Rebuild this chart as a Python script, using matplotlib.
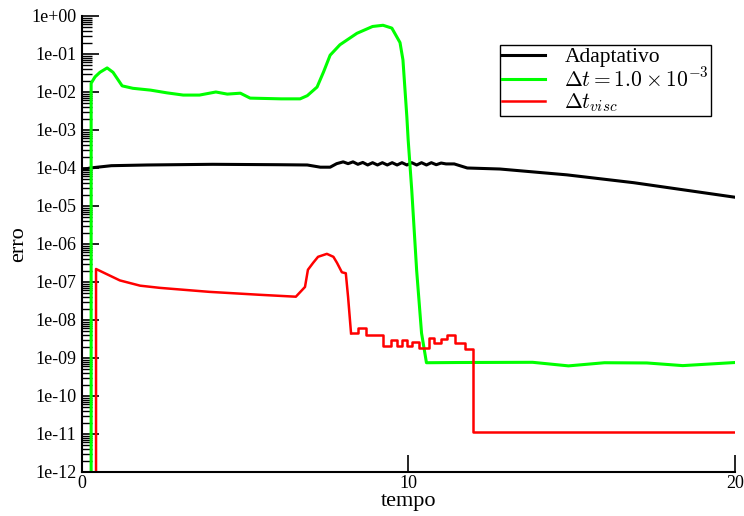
import numpy as np
import matplotlib.pyplot as plt
from matplotlib.ticker import LogLocator, FuncFormatter, NullLocator, NullFormatter

plt.rcParams['font.family'] = ['Liberation Serif', 'DejaVu Serif']
plt.rcParams['mathtext.fontset'] = 'cm'

# Adaptativo
t_adapt = [0.0, 0.25, 0.9, 2.0, 4.0, 6.0, 6.9, 7.3, 7.6, 7.8,
           8.0, 8.15, 8.3, 8.45, 8.6, 8.75, 8.9, 9.05, 9.2, 9.35,
           9.5, 9.65, 9.8, 9.95, 10.1, 10.25, 10.4, 10.55, 10.7, 10.85,
           11.0, 11.15, 11.4, 11.8, 12.8, 14.85, 16.9, 20.0]
e_adapt = [9.0e-5, 1.0e-4, 1.15e-4, 1.2e-4, 1.25e-4, 1.22e-4, 1.2e-4, 1.05e-4, 1.05e-4, 1.3e-4,
           1.45e-4, 1.3e-4, 1.45e-4, 1.25e-4, 1.4e-4, 1.2e-4, 1.38e-4, 1.2e-4, 1.38e-4, 1.2e-4,
           1.38e-4, 1.2e-4, 1.38e-4, 1.2e-4, 1.38e-4, 1.2e-4, 1.38e-4, 1.2e-4, 1.38e-4, 1.22e-4,
           1.35e-4, 1.28e-4, 1.28e-4, 1.0e-4, 9.4e-5, 6.6e-5, 4.1e-5, 1.7e-5]

# dt = 1.0e-3
t_fixo = [0.28, 0.28, 0.4, 0.55, 0.77, 0.95, 1.23, 1.56, 2.1, 2.6,
          3.1, 3.6, 4.1, 4.45, 4.85, 5.15, 6.1, 6.68, 6.9, 7.2,
          7.4, 7.6, 7.9, 8.42, 8.9, 9.22, 9.49, 9.74, 9.83, 9.95,
          9.99, 10.1, 10.25, 10.4, 10.55, 11.5, 13.8, 14.9, 16.0, 17.3,
          18.4, 20.0]
e_fixo = [1e-13, 1.7e-2, 2.5e-2, 3.3e-2, 4.3e-2, 3.3e-2, 1.45e-2, 1.25e-2, 1.12e-2, 9.5e-3,
          8.3e-3, 8.3e-3, 1.0e-2, 8.8e-3, 9.3e-3, 6.9e-3, 6.6e-3, 6.6e-3, 8.0e-3, 1.35e-2,
          3.4e-2, 9.3e-2, 1.75e-1, 3.5e-1, 5.3e-1, 5.7e-1, 4.8e-1, 2.0e-1, 7.0e-2, 2.2e-3,
          5.5e-4, 2.6e-5, 2.0e-7, 4.5e-9, 7.5e-10, 7.6e-10, 7.7e-10, 6.2e-10, 7.5e-10, 7.4e-10,
          6.3e-10, 7.6e-10]

# dt_visc (parte suave)
t_visc = [0.43, 0.43, 0.7, 1.16, 1.78, 2.39, 3.9, 5.45, 6.55, 6.83,
          6.92, 7.08, 7.23, 7.5, 7.7, 7.81, 7.96, 8.08, 8.15, 8.24]
e_visc = [1e-13, 2.2e-7, 1.7e-7, 1.1e-7, 8.0e-8, 7.0e-8, 5.5e-8, 4.6e-8, 4.1e-8, 7.4e-8,
          2.1e-7, 3.2e-7, 4.6e-7, 5.5e-7, 4.6e-7, 3.2e-7, 1.8e-7, 1.7e-7, 4.0e-8, 4.5e-9]

# dt_visc (degraus)
t_degrau = [8.24, 8.45, 8.70, 9.22, 9.46, 9.65, 9.80, 9.95, 10.11, 10.32,
            10.63, 10.78, 11.00, 11.18, 11.42, 11.73, 11.98, 20.0]
e_degrau = [4.5e-9, 6.2e-9, 4.0e-9, 2.1e-9, 3.0e-9, 2.1e-9, 3.0e-9, 2.1e-9, 2.6e-9, 1.8e-9,
            3.4e-9, 2.5e-9, 3.2e-9, 4.0e-9, 2.5e-9, 1.7e-9, 1.1e-11, 1.1e-11]

decadas = [10.0 ** k for k in range(-12, 1)]

fig = plt.figure(figsize=(7.44, 5.16), dpi=100)
ax = fig.add_axes([0.1102, 0.0853, 0.8777, 0.8837])

ax.plot(t_adapt, e_adapt, color='black', lw=2.2, label='Adaptativo')
ax.plot(t_fixo, e_fixo, color='#00ff00', lw=2.2, label=r'$\Delta t = 1.0 \times 10^{-3}$')
ax.plot(t_visc, e_visc, color='red', lw=1.8, label=r'$\Delta t_{visc}$')
ax.plot(t_degrau, e_degrau, color='red', lw=1.8, drawstyle='steps-post')

ax.set_yscale('log')
ax.set_xlim(0, 20)
ax.set_ylim(1e-12, 1)
ax.set_xticks([0, 10, 20])
ax.xaxis.set_minor_locator(NullLocator())
ax.set_yticks(decadas)
ax.yaxis.set_minor_locator(LogLocator(base=10, subs=np.arange(2, 10), numticks=20))
ax.yaxis.set_major_formatter(FuncFormatter(lambda v, p: "1e%+03d" % int(round(np.log10(v)))))
ax.yaxis.set_minor_formatter(NullFormatter())

for s in ['top', 'right']:
    ax.spines[s].set_visible(False)
for s in ['left', 'bottom']:
    ax.spines[s].set_linewidth(1.5)

ax.tick_params(which='major', direction='in', length=12, width=1.2, labelsize=13, pad=4)
ax.tick_params(axis='x', which='major', pad=2)
ax.tick_params(which='minor', direction='in', length=7, width=1)

ax.set_xlabel('tempo', fontsize=16, labelpad=0)
ax.set_ylabel('erro', fontsize=16, labelpad=2)

leg = ax.legend(loc='upper left', bbox_to_anchor=(0.64, 0.936), fontsize=15.5,
                fancybox=False, edgecolor='black', framealpha=1,
                borderpad=0.1, labelspacing=0.0, handlelength=2.0, handletextpad=0.9,
                borderaxespad=0)
leg.get_frame().set_linewidth(1.0)

fig.savefig('out.png', dpi=100)
